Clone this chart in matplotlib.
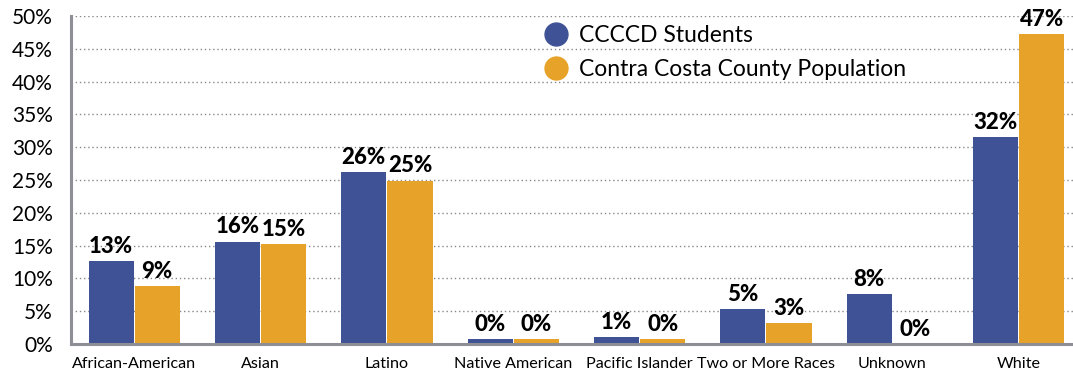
import matplotlib
matplotlib.use("Agg")
import matplotlib.pyplot as plt
import numpy as np
from matplotlib.lines import Line2D

categories = ["African-American", "Asian", "Latino", "Native American",
              "Pacific Islander", "Two or More Races", "Unknown", "White"]
students = [12.7, 15.6, 26.2, 0.7, 1.1, 5.3, 7.6, 31.5]
county = [8.8, 15.2, 24.9, 0.7, 0.7, 3.2, 0.0, 47.3]
student_labels = ["13%", "16%", "26%", "0%", "1%", "5%", "8%", "32%"]
county_labels = ["9%", "15%", "25%", "0%", "0%", "3%", "0%", "47%"]
series_names = ["CCCCD Students", "Contra Costa County Population"]
yticks = [0, 5, 10, 15, 20, 25, 30, 35, 40, 45, 50]

BLUE = "#3E5295"
ORANGE = "#E6A229"
FONT = "Lato"

fig = plt.figure(figsize=(10.73, 3.75), dpi=100)
ax = fig.add_axes([71/1073, 1-344/375, 1-71/1073, (344-16)/375])

x = np.arange(len(categories))
w = 0.357
gap = 0.004
b1 = ax.bar(x - w/2 - gap, students, w, color=BLUE, zorder=3)
b2 = ax.bar(x + w/2 + gap, county, w, color=ORANGE, zorder=3)

for bars, labels in ((b1, student_labels), (b2, county_labels)):
    for rect, lab in zip(bars, labels):
        ax.annotate(lab, (rect.get_x() + rect.get_width()/2, rect.get_height()),
                    xytext=(0, 3), textcoords="offset points", ha="center", va="bottom",
                    fontsize=16, fontweight="black", family=FONT, color="black")

ax.set_xlim(-0.5, 7.43)
ax.set_ylim(0, 50)
ax.set_yticks(yticks)
ax.set_yticklabels([f"{t}%" for t in yticks], fontsize=15, family=FONT)
ax.set_xticks(x)
ax.set_xticklabels(categories, fontsize=11.6, family=FONT)
ax.tick_params(axis="x", length=0, pad=9)
ax.tick_params(axis="y", length=0, pad=13)

ax.yaxis.grid(True, linestyle=(0, (1, 2)), color="#888888", linewidth=1.0, zorder=0)
ax.set_axisbelow(True)
for s in ["top", "right"]:
    ax.spines[s].set_visible(False)
for s in ["left", "bottom"]:
    ax.spines[s].set_color("#8E8E96")
    ax.spines[s].set_linewidth(2.2)
    ax.spines[s].set_zorder(4)

handles = [Line2D([0], [0], marker="o", linestyle="", markersize=16.5, markerfacecolor=c,
                  markeredgecolor=c) for c in (BLUE, ORANGE)]
leg = ax.legend(handles, series_names, loc="upper left", bbox_to_anchor=(0.452, 1.0),
                frameon=False, handletextpad=0.0, labelspacing=0.55, borderaxespad=0,
                prop={"family": FONT, "size": 16.5})

fig.savefig("out.png", dpi=100)
